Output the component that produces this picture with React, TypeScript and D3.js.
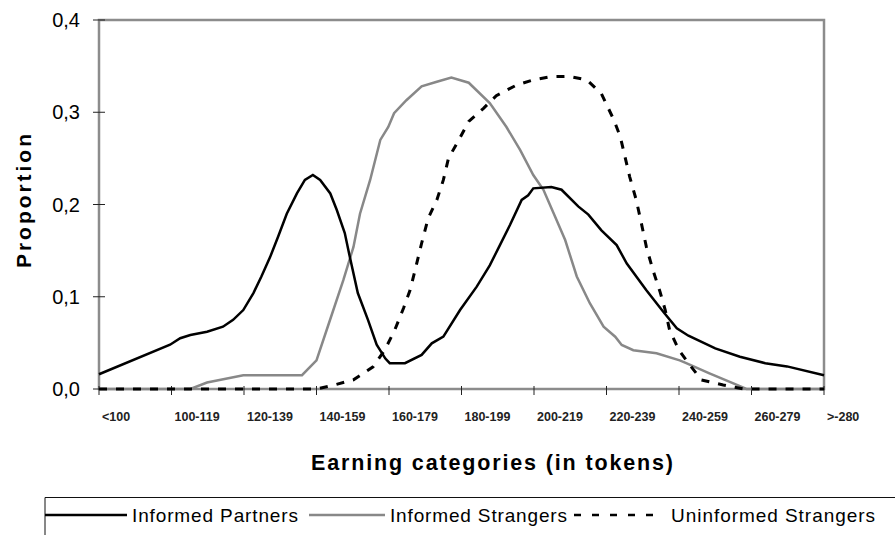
import React, { useEffect, useRef } from 'react';
import * as d3 from 'd3';

// category labels on the x axis (one per tick)
const categories = ['<100', '100-119', '120-139', '140-159', '160-179', '180-199', '200-219', '220-239', '240-259', '260-279', '>-280'];
const yTicks = [0, 0.1, 0.2, 0.3, 0.4];

// [category position, proportion]
const informedPartners: [number, number][] = [
  [0, 0.016], [0.98, 0.048], [1.12, 0.055], [1.26, 0.0585], [1.49, 0.062], [1.71, 0.0675], [1.85, 0.075],
  [1.99, 0.0856], [2.13, 0.104], [2.24, 0.122], [2.36, 0.143], [2.47, 0.165], [2.59, 0.19], [2.73, 0.212],
  [2.84, 0.2266], [2.95, 0.232], [3.05, 0.2266], [3.19, 0.212], [3.28, 0.194], [3.39, 0.169], [3.46, 0.143],
  [3.57, 0.104], [3.71, 0.075], [3.83, 0.048], [3.95, 0.033], [4.01, 0.028], [4.22, 0.028], [4.45, 0.037],
  [4.59, 0.0495], [4.75, 0.0567], [4.98, 0.0856], [5.21, 0.111], [5.39, 0.134], [5.53, 0.156], [5.67, 0.178],
  [5.83, 0.205], [5.92, 0.21], [5.99, 0.2175], [6.24, 0.219], [6.38, 0.216], [6.61, 0.198], [6.75, 0.189],
  [6.93, 0.172], [7.14, 0.156], [7.28, 0.136], [7.55, 0.107], [7.78, 0.084], [7.97, 0.0658], [8.13, 0.0578],
  [8.5, 0.044], [8.84, 0.035], [9.19, 0.028], [9.49, 0.0245], [10, 0.015],
];

const informedStrangers: [number, number][] = [
  [0, 0], [1.26, 0], [1.49, 0.007], [1.99, 0.015], [2.8, 0.015], [3.0, 0.031], [3.17, 0.071], [3.37, 0.118],
  [3.51, 0.154], [3.6, 0.19], [3.74, 0.2266], [3.88, 0.27], [3.99, 0.284], [4.07, 0.299], [4.24, 0.313],
  [4.45, 0.328], [4.66, 0.333], [4.86, 0.3375], [5.1, 0.332], [5.39, 0.31], [5.62, 0.284], [5.81, 0.259],
  [5.99, 0.232], [6.13, 0.216], [6.29, 0.187], [6.43, 0.1615], [6.59, 0.122], [6.77, 0.093], [6.96, 0.0675],
  [7.12, 0.0567], [7.21, 0.0477], [7.37, 0.042], [7.69, 0.0387], [8.01, 0.031], [8.1, 0.028], [8.42, 0.017],
  [8.75, 0.006], [8.93, 0], [10, 0],
];

const uninformedStrangers: [number, number][] = [
  [0, 0], [3.0, 0], [3.23, 0.004], [3.51, 0.01], [3.78, 0.024], [3.94, 0.042], [4.08, 0.064], [4.2, 0.0875],
  [4.29, 0.107], [4.36, 0.129], [4.45, 0.158], [4.54, 0.185], [4.66, 0.205], [4.75, 0.2266], [4.82, 0.25],
  [4.97, 0.271], [5.1, 0.29], [5.3, 0.304], [5.48, 0.318], [5.76, 0.3295], [5.99, 0.335], [6.22, 0.3385],
  [6.48, 0.339], [6.73, 0.335], [6.93, 0.32], [7.1, 0.292], [7.19, 0.2735], [7.32, 0.23], [7.41, 0.205],
  [7.48, 0.18], [7.55, 0.154], [7.64, 0.129], [7.74, 0.105], [7.81, 0.0856], [7.87, 0.064], [8.0, 0.042],
  [8.15, 0.026], [8.31, 0.0098], [8.61, 0.0043], [8.89, 0], [10, 0],
];

const seriesNames = ['Informed Partners', 'Informed Strangers', 'Uninformed Strangers'];

const FONT = '"Liberation Sans", Arial, sans-serif';

const App = () => {
  const svgRef = useRef<SVGSVGElement>(null);
  const width = 895;
  const height = 535;

  useEffect(() => {
    const svg = d3.select(svgRef.current);
    svg.selectAll('*').remove();

    const x = d3.scaleLinear().domain([0, categories.length - 1]).range([99, 824]);
    const y = d3.scaleLinear().domain([0, 0.4]).range([389, 20]);

    const line = d3.line<[number, number]>()
      .x(d => x(d[0]))
      .y(d => y(d[1]));

    // plot frame
    svg.append('rect')
      .attr('x', x(0)).attr('y', y(0.4))
      .attr('width', x(10) - x(0)).attr('height', y(0) - y(0.4))
      .attr('fill', 'none').attr('stroke', '#8c8c8c').attr('stroke-width', 2.5);

    // y axis ticks + labels
    const yAxis = svg.append('g');
    yTicks.forEach(t => {
      yAxis.append('line')
        .attr('x1', x(0) - 6).attr('x2', x(0) + 6)
        .attr('y1', y(t)).attr('y2', y(t))
        .attr('stroke', '#222').attr('stroke-width', 1);
      yAxis.append('text')
        .attr('x', 80).attr('y', y(t))
        .attr('dy', '0.36em')
        .attr('text-anchor', 'end')
        .style('font-family', FONT).style('font-size', '20px')
        .text(d3.format('.1f')(t).replace('.', ','));
    });

    // x axis ticks + labels
    const xAxis = svg.append('g');
    categories.forEach((c, i) => {
      xAxis.append('line')
        .attr('x1', x(i)).attr('x2', x(i))
        .attr('y1', y(0) - 3).attr('y2', y(0) + 6)
        .attr('stroke', '#222').attr('stroke-width', 1);
      xAxis.append('text')
        .attr('x', x(i) + 3).attr('y', 421)
        .style('font-family', FONT).style('font-size', '12.5px').style('font-weight', 'bold')
        .attr('fill', '#222')
        .text(c);
    });

    // series
    svg.append('path').datum(informedStrangers)
      .attr('d', line).attr('fill', 'none')
      .attr('stroke', '#888').attr('stroke-width', 2.5);
    svg.append('path').datum(informedPartners)
      .attr('d', line).attr('fill', 'none')
      .attr('stroke', '#000').attr('stroke-width', 2.5);
    svg.append('path').datum(uninformedStrangers)
      .attr('d', line).attr('fill', 'none')
      .attr('stroke', '#000').attr('stroke-width', 3)
      .attr('stroke-dasharray', '8 9');

    // axis titles
    svg.append('text')
      .attr('transform', `translate(31,${201}) rotate(-90)`)
      .attr('text-anchor', 'middle')
      .attr('textLength', 134).attr('lengthAdjust', 'spacing')
      .style('font-family', FONT).style('font-size', '21px').style('font-weight', 'bold')
      .text('Proportion');

    svg.append('text')
      .attr('x', 492).attr('y', 470)
      .attr('text-anchor', 'middle')
      .attr('textLength', 362).attr('lengthAdjust', 'spacing')
      .style('font-family', FONT).style('font-size', '21.5px').style('font-weight', 'bold')
      .text('Earning categories (in tokens)');

    // legend
    const legend = svg.append('g');
    legend.append('path')
      .attr('d', 'M45,540 V497.5 H900')
      .attr('fill', 'none').attr('stroke', '#111').attr('stroke-width', 1);

    const items = [
      { x1: 45, x2: 127, tx: 132, len: 166, stroke: '#000', dash: null, w: 2.5 },
      { x1: 309, x2: 385, tx: 390, len: 177, stroke: '#888', dash: null, w: 2.5 },
      { x1: 574, x2: 660, tx: 671, len: 204, stroke: '#000', dash: '7 11', w: 2.5 },
    ];
    items.forEach((it, i) => {
      legend.append('line')
        .attr('x1', it.x1).attr('x2', it.x2)
        .attr('y1', 515).attr('y2', 515)
        .attr('stroke', it.stroke).attr('stroke-width', it.w)
        .attr('stroke-dasharray', it.dash);
      legend.append('text')
        .attr('x', it.tx).attr('y', 515)
        .attr('dy', '0.36em')
        .attr('textLength', it.len).attr('lengthAdjust', 'spacing')
        .style('font-family', FONT).style('font-size', '19px')
        .text(seriesNames[i]);
    });
  }, []);

  return (
    <svg ref={svgRef} width={width} height={height}
      style={{ position: 'absolute', left: 0, top: 0, background: '#fff' }} />
  );
};

export default App;
